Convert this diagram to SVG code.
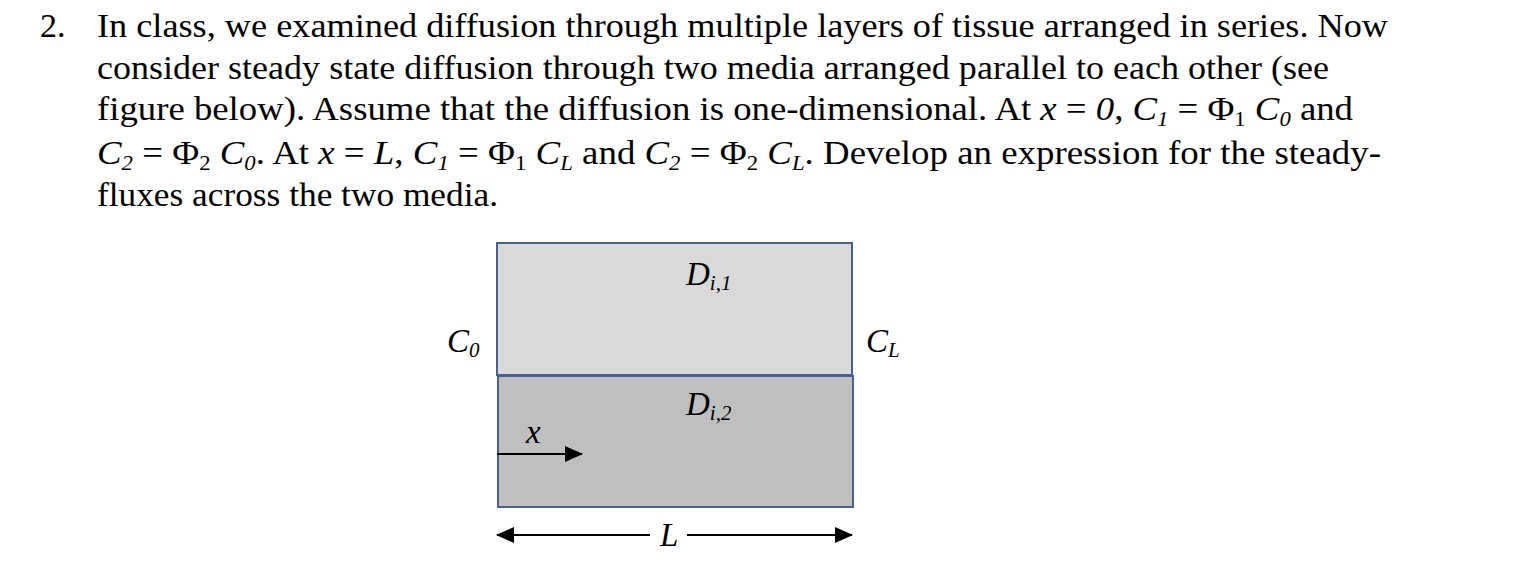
<svg xmlns="http://www.w3.org/2000/svg" width="1538" height="564" viewBox="0 0 1538 564">
<style>
text{font-family:"Liberation Serif","Times New Roman",serif;fill:#000}
.t{font-size:34px}
.i{font-style:italic}
.s{font-size:21px}
.f{font-size:33px}
</style>
<defs>
<marker id="ah" markerWidth="18" markerHeight="16" refX="17" refY="8" orient="auto" markerUnits="userSpaceOnUse" viewBox="0 0 18 16"><path d="M0,0 L18,8 L0,16 z" fill="#000"/></marker>
</defs>
<rect width="1538" height="564" fill="#fff"/>
<g id="text">
<text class="t" x="40" y="37">2.</text>
<text class="t" x="97" y="37" textLength="1291" lengthAdjust="spacingAndGlyphs">In class, we examined diffusion through multiple layers of tissue arranged in series.  Now</text>
<text class="t" x="97" y="79" textLength="1232" lengthAdjust="spacingAndGlyphs">consider steady state diffusion through two media arranged parallel to each other (see</text>
<text class="t" x="97" y="120" textLength="1256" lengthAdjust="spacingAndGlyphs">figure below).  Assume that the diffusion is one-dimensional.  At <tspan class="i">x</tspan> = <tspan class="i">0</tspan>, <tspan class="i">C<tspan class="s" dy="6">1</tspan></tspan><tspan dy="-6"> = Φ</tspan><tspan class="s" dy="6">1</tspan><tspan dy="-6"> </tspan><tspan class="i">C<tspan class="s" dy="6">0</tspan></tspan><tspan dy="-6"> and</tspan></text>
<text class="t" x="97" y="164" textLength="1284" lengthAdjust="spacingAndGlyphs"><tspan class="i">C<tspan class="s" dy="6">2</tspan></tspan><tspan dy="-6"> = Φ</tspan><tspan class="s" dy="6">2</tspan><tspan dy="-6"> </tspan><tspan class="i">C<tspan class="s" dy="6">0</tspan></tspan><tspan dy="-6">.  At </tspan><tspan class="i">x</tspan> = <tspan class="i">L</tspan>, <tspan class="i">C<tspan class="s" dy="6">1</tspan></tspan><tspan dy="-6"> = Φ</tspan><tspan class="s" dy="6">1</tspan><tspan dy="-6"> </tspan><tspan class="i">C<tspan class="s" dy="6">L</tspan></tspan><tspan dy="-6"> and </tspan><tspan class="i">C<tspan class="s" dy="6">2</tspan></tspan><tspan dy="-6"> = Φ</tspan><tspan class="s" dy="6">2</tspan><tspan dy="-6"> </tspan><tspan class="i">C<tspan class="s" dy="6">L</tspan></tspan><tspan dy="-6">.  Develop an expression for the steady-</tspan></text>
<text class="t" x="97" y="206" textLength="401" lengthAdjust="spacingAndGlyphs">fluxes across the two media.</text>
</g>
<g id="medium1">
<rect x="497" y="243" width="355" height="132" fill="#d9d9d9" stroke="#4a6090" stroke-width="2"/>
<text class="f i" x="686" y="285">D<tspan class="s" dy="5">i,1</tspan></text>
</g>
<g id="medium2">
<rect x="498" y="376" width="355" height="131" fill="#bfbfbf" stroke="#4a6090" stroke-width="2"/>
<text class="f i" x="686" y="415">D<tspan class="s" dy="5">i,2</tspan></text>
</g>
<g id="labels">
<text class="f i" x="447" y="352">C<tspan class="s" dy="5">0</tspan></text>
<text class="f i" x="866" y="352">C<tspan class="s" dy="5">L</tspan></text>
<text class="f i" x="526" y="443">x</text>
<text class="f i" x="660" y="546">L</text>
</g>
<g id="connectors" stroke="#000" stroke-width="2" fill="none">
<line x1="497" y1="454" x2="582" y2="454" marker-end="url(#ah)"/>
<line x1="650" y1="535" x2="497" y2="535" marker-end="url(#ah)"/>
<line x1="687" y1="535" x2="852" y2="535" marker-end="url(#ah)"/>
</g>
</svg>
